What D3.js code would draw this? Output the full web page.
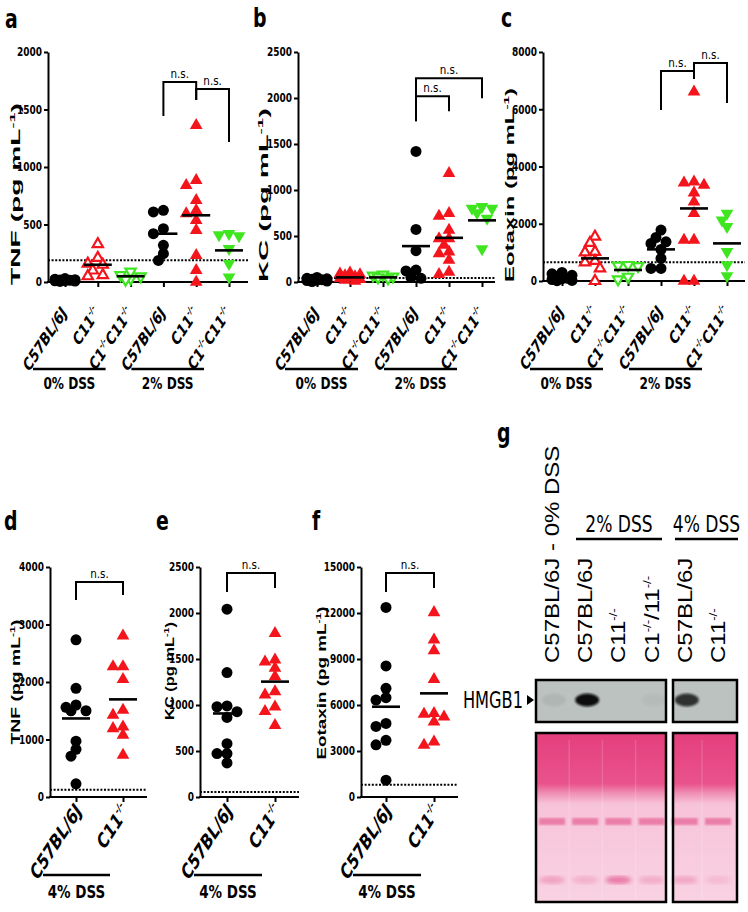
<!DOCTYPE html>
<html>
<head>
<meta charset="utf-8">
<script src="https://cdn.jsdelivr.net/npm/d3@7"></script>
<style>
  html, body { margin: 0; padding: 0; background: #fff; }
  svg { display: block; }
</style>
</head>
<body>
<svg id="fig" width="748" height="912"></svg>
<script>
// ---- data ----
const topCategories = ["C57BL/6J", "C11^-/-", "C1^-/-^C11^-/-", "C57BL/6J", "C11^-/-", "C1^-/-^C11^-/-"];
const topGroups = ["0% DSS", "2% DSS"];
const bottomCategories = ["C57BL/6J", "C11^-/-"];
const bottomGroups = ["4% DSS"];

// panel a, TNF (pg/mL)
const tnfValues = [
  [5, 10, 15, 20, 25, 30, 12, 8, 18],
  [330, 210, 160, 150, 100, 60, 50],
  [90, 60, 50, 30, 20],
  [623, 609, 464, 420, 319, 246, 188],
  [1362, 884, 841, 710, 623, 594, 536, 449, 232, 101, 0],
  [420, 410, 400, 290, 160, 43]
];
const tnfMeans = [15, 150, 50, 420, 580, 275];
const tnfLimit = 190;

// panel b, KC
const kcValues = [
  [10, 20, 30, 40, 50, 25, 15, 5, 35],
  [100, 90, 80, 60, 50, 40, 30, 20, 10, 70],
  [80, 70, 60, 50, 40],
  [1419, 571, 340, 130, 120, 50, 40],
  [1182, 746, 717, 564, 473, 473, 400, 327, 309, 237, 84, 109],
  [820, 800, 800, 750, 690, 360]
];
const kcMeans = [25, 50, 50, 390, 480, 670];
const kcLimit = 44;

// panel c, Eotaxin
const eotValues = [
  [300, 250, 200, 150, 100, 50, 20, 10, 80],
  [1550, 1330, 1020, 1000, 700, 650, 440, 0],
  [560, 540, 520, 150, 60],
  [1780, 1520, 1370, 1310, 1100, 790, 440, 440],
  [6605, 3465, 3349, 3430, 3081, 2767, 2360, 1430, 1430, 0, 0],
  [2360, 2128, 1895, 1023, 558, 174]
];
const eotMeans = [100, 790, 384, 1105, 2535, 1314];
const eotLimit = 651;

// panels d-f, 4% DSS
const tnf4Values = [
  [2733, 1890, 1600, 1560, 1500, 1500, 970, 830, 710, 230],
  [2802, 2267, 2267, 2047, 1512, 1424, 1221, 1192, 1076, 727]
];
const tnf4Means = [1366, 1698];
const tnf4Limit = 128;

const kc4Values = [
  [2042, 1352, 981, 990, 927, 865, 580, 472, 472, 370],
  [1780, 1490, 1470, 1400, 1310, 1145, 1110, 980, 930, 780]
];
const kc4Means = [908, 1254];
const kc4Limit = 55;

const eot4Values = [
  [12360, 8550, 7090, 6480, 6320, 4800, 4600, 3700, 3400, 1100],
  [12035, 10250, 9550, 7670, 5450, 5400, 5230, 4900, 3600, 3380]
];
const eot4Means = [5887, 6759];
const eot4Limit = 807;

// brackets: [from column, to column, top value, left leg end, right leg end]
const tnfBrackets = [[3, 4, 1740, 1443, 1583], [4, 5, 1678, 1583, 1217]];
const kcBrackets = [[3, 5, 2216, 1747, 1998], [3, 4, 2020, 1747, 1856]];
const eotBrackets = [[3, 4, 7336, 5974, 7057], [4, 5, 7616, 7057, 6218]];
const tnf4Brackets = [[0, 1, 3739, 3426, 3513]];
const kc4Brackets = [[0, 1, 2435, 2228, 2272]];
const eot4Brackets = [[0, 1, 14609, 13370, 13630]];

// panel g, blot
const blotLanes = ["C57BL/6J - 0% DSS", "C57BL/6J", "C11^-/-", "C1^-/-^/11^-/-", "C57BL/6J", "C11^-/-"];
const blotGroups = ["2% DSS", "4% DSS"];
const hmgb1Signal = [0.06, 1.0, 0.0, 0.03, 0.8, 0.0];
const ponceauLowBand = [0.45, 0.3, 0.85, 0.35, 0.4, 0.2];

// ---- styles ----
const NARROW = "'Liberation Sans Narrow','Arial Narrow','DejaVu Sans Condensed',sans-serif";
const ARIAL = "'Liberation Sans',Arial,sans-serif";
const RED = '#f3141c';
const GREEN = '#3fe620';

const svg = d3.select('#fig');

// text with "^" marking superscript parts
function richText(sel, str, supSize, shift) {
  let up = false;
  str.split('^').forEach((part, i) => {
    if (!part) return;
    const t = sel.append('tspan').text(part);
    if (i % 2 === 1) {
      t.attr('font-size', supSize).attr('dy', -shift);
      up = true;
    } else if (up) {
      t.attr('dy', shift);
      up = false;
    }
  });
}

// small swarm: points at similar heights sit side by side, kept within +-maxOff
function swarm(vals, y, step, minDist, maxOff) {
  const pts = vals.map(v => ({ v: v, py: y(v), dx: 0 })).sort((a, b) => a.py - b.py);
  const placed = [];
  const cands = [0];
  for (let k = 1; k * step <= maxOff; k++) cands.push(-k * step, k * step);
  pts.forEach(o => {
    let best = 0, bestGap = -1;
    for (const off of cands) {
      const gap = placed.length ? d3.min(placed, q => Math.hypot(q.dx - off, q.py - o.py)) : Infinity;
      if (gap >= minDist) { best = off; bestGap = Infinity; break; }
      if (gap > bestGap) { bestGap = gap; best = off; }
    }
    o.dx = best;
    placed.push(o);
  });
  return pts;
}

function drawPanel(p) {
  const g = svg.append('g');
  const y = d3.scaleLinear().domain(p.domain).range([p.y0, p.y1]);
  const x = d3.scalePoint().domain(d3.range(p.values.length)).range([p.c0, p.c1]);

  // y axis
  const ya = g.append('g')
    .attr('transform', `translate(${p.ax},0)`)
    .call(d3.axisLeft(y).tickValues(d3.range(0, p.domain[1] + 1, p.step))
      .tickSize(4).tickSizeOuter(0).tickPadding(2).tickFormat(d3.format('d')));
  ya.select('.domain').attr('stroke-width', 2);
  ya.selectAll('.tick line').attr('stroke-width', 2);
  ya.selectAll('.tick text').attr('font-family', NARROW).attr('font-weight', 'bold')
    .attr('font-size', p.tfs).attr('fill', '#000').attr('transform', 'scale(1,1.2)');

  // x axis baseline + ticks
  g.append('line').attr('x1', p.ax - 1).attr('x2', p.xr).attr('y1', p.y0).attr('y2', p.y0)
    .attr('stroke', '#000').attr('stroke-width', 2.2);
  const xa = g.append('g').attr('transform', `translate(0,${p.y0})`)
    .call(d3.axisBottom(x).tickSize(5).tickFormat(''));
  xa.select('.domain').remove();
  xa.selectAll('.tick line').attr('stroke-width', 2);

  // detection limit
  g.append('line').attr('x1', p.ax).attr('x2', p.xr)
    .attr('y1', y(p.limit)).attr('y2', y(p.limit))
    .attr('stroke', '#000').attr('stroke-width', 2).attr('stroke-dasharray', '2,1.6');

  // points
  p.values.forEach((vals, i) => {
    const st = p.styles[i];
    const pts = swarm(vals, y, 5, 8, 12);
    const sym = d3.symbol()
      .type(st.shape === 'circle' ? d3.symbolCircle : d3.symbolTriangle)
      .size(st.shape === 'circle' ? 95 : (st.open ? 46 : 70));
    g.append('g').selectAll('path').data(pts).join('path')
      .attr('d', sym)
      .attr('transform', d => `translate(${x(i) + d.dx},${d.py})` + (st.shape === 'down' ? ' rotate(180)' : ''))
      .attr('fill', st.open ? '#fff' : st.color)
      .attr('stroke', st.open ? st.color : 'none')
      .attr('stroke-width', st.open ? 2.2 : 0);
  });

  // mean lines
  g.append('g').selectAll('line').data(p.means).join('line')
    .attr('x1', (d, i) => x(i) - 14).attr('x2', (d, i) => x(i) + 14)
    .attr('y1', d => y(d)).attr('y2', d => y(d))
    .attr('stroke', '#000').attr('stroke-width', 2.6);

  // significance brackets
  p.brackets.forEach(b => {
    const xl = x(b[0]), xr = x(b[1]);
    g.append('path')
      .attr('d', `M${xl},${y(b[3])}V${y(b[2])}H${xr}V${y(b[4])}`)
      .attr('fill', 'none').attr('stroke', '#000').attr('stroke-width', 2);
    g.append('text').attr('x', (xl + xr) / 2).attr('y', y(b[2]) - 4)
      .attr('text-anchor', 'middle').attr('font-family', NARROW)
      .attr('font-size', 11.5).text('n.s.');
  });

  // category labels (slightly stretched vertically like the source)
  p.categories.forEach((c, i) => {
    const t = g.append('text')
      .attr('transform', `translate(${x(i) + p.lx},${p.y0 + p.ly}) scale(1,1.2) rotate(-52)`)
      .attr('text-anchor', 'end').attr('font-family', NARROW)
      .attr('font-weight', 'bold').attr('font-style', 'italic')
      .attr('font-size', p.lfs);
    richText(t, c, p.lfs * 0.55, p.lfs * 0.45);
  });

  // group bars
  p.groups.forEach((gl, k) => {
    const from = k * p.perGroup, to = from + p.perGroup - 1;
    const x1 = x(from) + p.gb[0], x2 = x(to) + p.gb[1];
    g.append('line').attr('x1', x1).attr('x2', x2).attr('y1', p.gy).attr('y2', p.gy)
      .attr('stroke', '#000').attr('stroke-width', 2.6);
    g.append('text').attr('transform', `translate(${(x1 + x2) / 2},${p.gy + p.gty}) scale(1,1.15)`)
      .attr('text-anchor', 'middle').attr('font-family', NARROW).attr('font-weight', 'bold')
      .attr('font-size', p.gfs).text(gl);
  });

  // y axis title, stretched along its length to the measured extent
  const yt = g.append('text')
    .attr('text-anchor', 'middle').attr('font-family', ARIAL).attr('font-weight', 'bold')
    .attr('font-size', 12.5);
  richText(yt, p.title, 8, 5);
  const natural = yt.node().getComputedTextLength();
  yt.attr('transform', `translate(${p.ylx},${p.yly}) scale(1,${p.yll / natural}) rotate(-90)`);

  // panel letter
  g.append('text').attr('transform', `translate(${p.px},${p.py}) scale(1,1.3)`)
    .attr('font-family', NARROW).attr('font-weight', 'bold').attr('font-size', 21).text(p.id);
}

const topStyles = (open) => [
  { shape: 'circle', color: '#000' },
  { shape: 'up', color: RED, open: open },
  { shape: 'down', color: GREEN, open: true },
  { shape: 'circle', color: '#000' },
  { shape: 'up', color: RED },
  { shape: 'down', color: GREEN }
];
const bottomStyles = [{ shape: 'circle', color: '#000' }, { shape: 'up', color: RED }];

const topLayout = { y0: 282, y1: 52, tfs: 10, lfs: 14, lx: 3, ly: 31, perGroup: 3, gb: [-32, -25], gy: 369, gty: 20, gfs: 13.5 };
const botLayout = { y0: 797, y1: 567, tfs: 10, lfs: 16.5, lx: 7, ly: 14, perGroup: 2, gb: [-33, -13], gy: 875, gty: 23, gfs: 15 };

drawPanel(Object.assign({}, topLayout, {
  id: 'a', values: tnfValues, means: tnfMeans, limit: tnfLimit, brackets: tnfBrackets,
  categories: topCategories, groups: topGroups, styles: topStyles(true),
  domain: [0, 2000], step: 500, ax: 48, xr: 248, c0: 65, c1: 229,
  title: 'TNF (pg mL^-1^)', ylx: 20, yly: 194, yll: 182, px: 5, py: 28
}));
drawPanel(Object.assign({}, topLayout, {
  id: 'b', values: kcValues, means: kcMeans, limit: kcLimit, brackets: kcBrackets,
  categories: topCategories, groups: topGroups, styles: topStyles(false),
  domain: [0, 2500], step: 500, ax: 298, xr: 495, c0: 317, c1: 482,
  title: 'KC (pg mL^-1^)', ylx: 268, yly: 195, yll: 174, px: 253, py: 27
}));
drawPanel(Object.assign({}, topLayout, {
  id: 'c', values: eotValues, means: eotMeans, limit: eotLimit, brackets: eotBrackets,
  categories: topCategories, groups: topGroups, styles: topStyles(true), y1: 52, y0: 281,
  domain: [0, 8000], step: 2000, ax: 543, xr: 745, c0: 562, c1: 727,
  title: 'Eotaxin (pg mL^-1^)', ylx: 514, yly: 185, yll: 194, px: 501, py: 27
}));
drawPanel(Object.assign({}, botLayout, {
  id: 'd', values: tnf4Values, means: tnf4Means, limit: tnf4Limit, brackets: tnf4Brackets,
  categories: bottomCategories, groups: bottomGroups, styles: bottomStyles,
  domain: [0, 4000], step: 1000, ax: 50, xr: 147, c0: 76, c1: 123,
  title: 'TNF (pg mL^-1^)', ylx: 20, yly: 682, yll: 125, px: 4, py: 530
}));
drawPanel(Object.assign({}, botLayout, {
  id: 'e', values: kc4Values, means: kc4Means, limit: kc4Limit, brackets: kc4Brackets,
  categories: bottomCategories, groups: bottomGroups, styles: bottomStyles,
  domain: [0, 2500], step: 500, ax: 200, xr: 299, c0: 227, c1: 275,
  title: 'KC (pg mL^-1^)', ylx: 174, yly: 671, yll: 98, px: 156, py: 530
}));
drawPanel(Object.assign({}, botLayout, {
  id: 'f', values: eot4Values, means: eot4Means, limit: eot4Limit, brackets: eot4Brackets,
  categories: bottomCategories, groups: bottomGroups, styles: bottomStyles,
  domain: [0, 15000], step: 3000, ax: 361, xr: 458, c0: 386, c1: 434,
  title: 'Eotaxin (pg mL^-1^)', ylx: 326, yly: 683, yll: 153, px: 312, py: 530
}));

// ---- panel g: western blot ----
(function drawBlot() {
  const g = svg.append('g');
  const lx = d3.scalePoint().domain(d3.range(blotLanes.length)).range([552, 718]);
  const boxes = [[536, 666, [0, 1, 2, 3]], [673, 737, [4, 5]]];
  const defs = svg.append('defs');

  defs.append('filter').attr('id', 'blur').append('feGaussianBlur').attr('stdDeviation', 2);
  defs.append('filter').attr('id', 'blur1').append('feGaussianBlur').attr('stdDeviation', 1.2);
  const grad = defs.append('linearGradient').attr('id', 'ponceau')
    .attr('x1', 0).attr('x2', 0).attr('y1', 0).attr('y2', 1);
  [[0, '#e43f7d'], [0.3, '#e9538c'], [0.36, '#f093b7'], [0.42, '#f7c3d8'], [1, '#f9d2e2']]
    .forEach(s => grad.append('stop').attr('offset', s[0]).attr('stop-color', s[1]));

  g.append('text').attr('transform', 'translate(497,442) scale(1,1.3)')
    .attr('font-family', NARROW).attr('font-weight', 'bold').attr('font-size', 21).text('g');

  // lane labels
  blotLanes.forEach((l, i) => {
    const t = g.append('text')
      .attr('transform', `translate(${lx(i) + 7},663) scale(1,1.2) rotate(-90)`)
      .attr('font-family', ARIAL).attr('font-size', 20);
    richText(t, l, 11, 8);
  });

  // group bars
  const gb = [[576, 662], [675, 738]];
  blotGroups.forEach((gl, k) => {
    g.append('line').attr('x1', gb[k][0]).attr('x2', gb[k][1]).attr('y1', 539).attr('y2', 539)
      .attr('stroke', '#000').attr('stroke-width', 2.6);
    g.append('text').attr('transform', `translate(${(gb[k][0] + gb[k][1]) / 2},532) scale(1,1.25)`)
      .attr('text-anchor', 'middle').attr('font-family', NARROW).attr('font-size', 19).text(gl);
  });

  // HMGB1 label
  g.append('text').attr('transform', 'translate(523,708) scale(1,1.3)')
    .attr('text-anchor', 'end').attr('font-family', NARROW).attr('font-size', 18).text('HMGB1');
  g.append('path').attr('d', 'M527,695L534,700L527,705Z').attr('fill', '#000');

  boxes.forEach(b => {
    // HMGB1 blot
    g.append('rect').attr('x', b[0]).attr('y', 680).attr('width', b[1] - b[0]).attr('height', 42)
      .attr('fill', '#bcc2c0');
    b[2].forEach(i => {
      g.append('ellipse').attr('cx', lx(i) + 2).attr('cy', 700).attr('rx', 12).attr('ry', 6.5)
        .attr('fill', '#0a0a0a').attr('opacity', hmgb1Signal[i]).attr('filter', 'url(#blur1)');
    });
    g.append('rect').attr('x', b[0]).attr('y', 680).attr('width', b[1] - b[0]).attr('height', 42)
      .attr('fill', 'none').attr('stroke', '#000').attr('stroke-width', 2.5);

    // Ponceau stain
    g.append('rect').attr('x', b[0]).attr('y', 733).attr('width', b[1] - b[0]).attr('height', 169)
      .attr('fill', 'url(#ponceau)');
    g.append('path')
      .attr('d', `M${b[0]},796Q${(b[0] + b[1]) / 2},${790}${b[1]},800`)
      .attr('fill', 'none').attr('stroke', '#e97aa4').attr('stroke-width', 1.2);
    b[2].forEach(i => {
      g.append('rect').attr('x', lx(i) - 13).attr('y', 818).attr('width', 26).attr('height', 7)
        .attr('fill', '#e6669a').attr('opacity', 0.75).attr('filter', 'url(#blur1)');
      g.append('ellipse').attr('cx', lx(i)).attr('cy', 880).attr('rx', 13).attr('ry', 4)
        .attr('fill', '#e66a9c').attr('opacity', ponceauLowBand[i]).attr('filter', 'url(#blur)');
    });
    b[2].slice(1).forEach(i => {
      g.append('line').attr('x1', lx(i) - 16).attr('x2', lx(i) - 16).attr('y1', 740).attr('y2', 900)
        .attr('stroke', '#fff').attr('stroke-opacity', 0.15).attr('stroke-width', 1.5);
    });
    g.append('rect').attr('x', b[0]).attr('y', 733).attr('width', b[1] - b[0]).attr('height', 169)
      .attr('fill', 'none').attr('stroke', '#000').attr('stroke-width', 2.5);
  });
})();
</script>
</body>
</html>
